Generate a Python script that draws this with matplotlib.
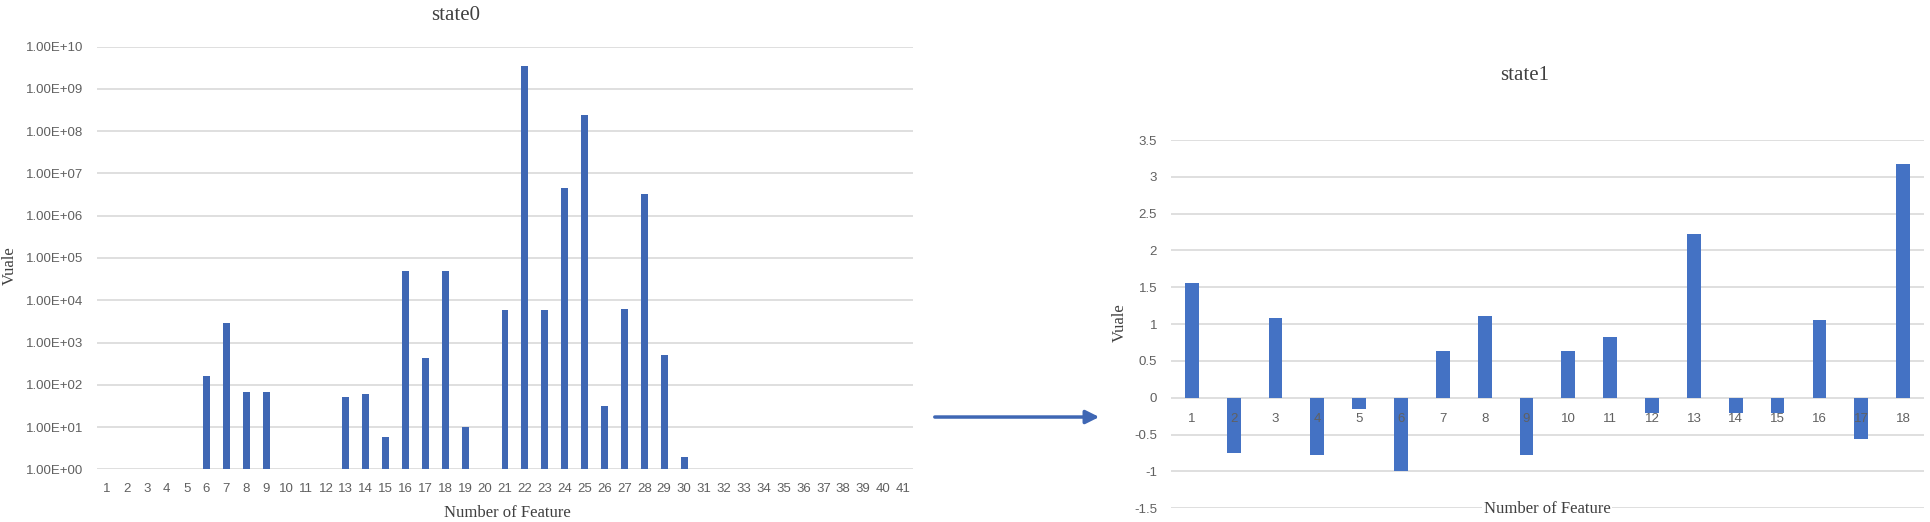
import numpy as np
import matplotlib
matplotlib.use("Agg")
import matplotlib.pyplot as plt
from matplotlib.ticker import FixedLocator, FuncFormatter


# state0 : 41 features, values on a log scale (1 = no bar)
features0 = list(range(1, 42))
values0 = [1, 1, 1, 1, 1, 160, 2900, 67, 67, 1,
           1, 1, 52, 62, 5.9, 50000, 440, 50000, 10, 1,
           5800, 3.5e9, 5800, 4.5e6, 2.4e8, 31, 6200, 3.3e6, 500, 2,
           1, 1, 1, 1, 1, 1, 1, 1, 1, 1, 1]
decades0 = [1e0, 1e1, 1e2, 1e3, 1e4, 1e5, 1e6, 1e7, 1e8, 1e9, 1e10]

# state1 : 18 features
features1 = list(range(1, 19))
values1 = [1.56, -0.75, 1.09, -0.77, -0.15, -0.99, 0.64, 1.11, -0.77,
           0.64, 0.83, -0.21, 2.22, -0.21, -0.21, 1.06, -0.56, 3.18]
ticks1 = [-1.5, -1, -0.5, 0, 0.5, 1, 1.5, 2, 2.5, 3, 3.5]

bleu = '#3f67b4'
gris_grille = '#dcdcdc'
gris_texte = '#606060'
police_sans = 'Liberation Sans'
police_serif = 'Liberation Serif'
taille_ticks = 9.5

fig = plt.figure(figsize=(19.3, 5.22), dpi=100)

# ---------- graphique de gauche : state0 ----------
ax0 = fig.add_axes([0.0503, 0.101, 0.4227, 0.8095])
ax0.set_yscale('log')
ax0.bar(features0, np.array(values0) - 1, bottom=1, width=0.35, color=bleu, zorder=3)
ax0.set_ylim(1, 1e10)
ax0.set_xlim(0.5, 41.5)
ax0.yaxis.set_major_locator(FixedLocator(decades0))
ax0.yaxis.set_minor_locator(FixedLocator([]))
ax0.yaxis.set_major_formatter(FuncFormatter(lambda v, p: f"{v:.2E}"))
ax0.set_xticks(features0)
ax0.set_xticklabels([str(f) for f in features0])
ax0.grid(axis='y', color=gris_grille, linewidth=1.3, zorder=0)
ax0.tick_params(axis='both', length=0, colors=gris_texte, labelsize=taille_ticks)
ax0.tick_params(axis='y', pad=10)
ax0.tick_params(axis='x', pad=10)
for lab in ax0.get_xticklabels() + ax0.get_yticklabels():
	lab.set_fontfamily(police_sans)
for s in ax0.spines.values():
	s.set_visible(False)

fig.text(0.236, 0.971, 'state0', ha='center', va='center', fontsize=15,
		 family=police_serif, color='#404040')
fig.text(0.2627, 0.017, 'Number of Feature', ha='center', va='center', fontsize=12,
		 family=police_serif, color='#404040')
fig.text(0.005, 0.492, 'Vuale', ha='center', va='center', fontsize=12, rotation=90,
		 family=police_serif, color='#404040')

# ---------- graphique de droite : state1 ----------
ax1 = fig.add_axes([0.6067, 0.0262, 0.3902, 0.7056])
ax1.bar(features1, values1, width=0.33, color='#4472c4', zorder=3)
ax1.set_ylim(-1.5, 3.5)
ax1.set_xlim(0.5, 18.5)
ax1.set_yticks(ticks1)
ax1.set_yticklabels([f"{t:g}" for t in ticks1])
ax1.set_xticks([])
ax1.grid(axis='y', color=gris_grille, linewidth=1.3, zorder=0)
ax1.tick_params(axis='y', length=0, colors=gris_texte, labelsize=taille_ticks, pad=10)
for lab in ax1.get_yticklabels():
	lab.set_fontfamily(police_sans)
for s in ax1.spines.values():
	s.set_visible(False)

# étiquettes des catégories sur la ligne du zéro (par-dessus les barres, comme Excel)
for f in features1:
	ax1.annotate(str(f), (f, 0), xytext=(0, -15), textcoords='offset points',
				 ha='center', va='center', fontsize=taille_ticks, color=gris_texte,
				 family=police_sans, zorder=4)

fig.text(0.790, 0.856, 'state1', ha='center', va='center', fontsize=15,
		 family=police_serif, color='#404040')
fig.text(0.8016, 0.025, 'Number of Feature', ha='center', va='center', fontsize=12,
		 family=police_serif, color='#404040',
		 bbox=dict(facecolor='white', edgecolor='none', pad=1))
fig.text(0.580, 0.381, 'Vuale', ha='center', va='center', fontsize=12, rotation=90,
		 family=police_serif, color='#404040')

# flèche entre les deux graphiques
fig.patches.append(matplotlib.patches.FancyArrowPatch(
	(0.4829, 0.2011), (0.571, 0.2011), transform=fig.transFigure,
	arrowstyle='-|>,head_length=8,head_width=4', color=bleu, linewidth=2.5,
	mutation_scale=1))

fig.savefig('out.png', dpi=100, facecolor='white')
